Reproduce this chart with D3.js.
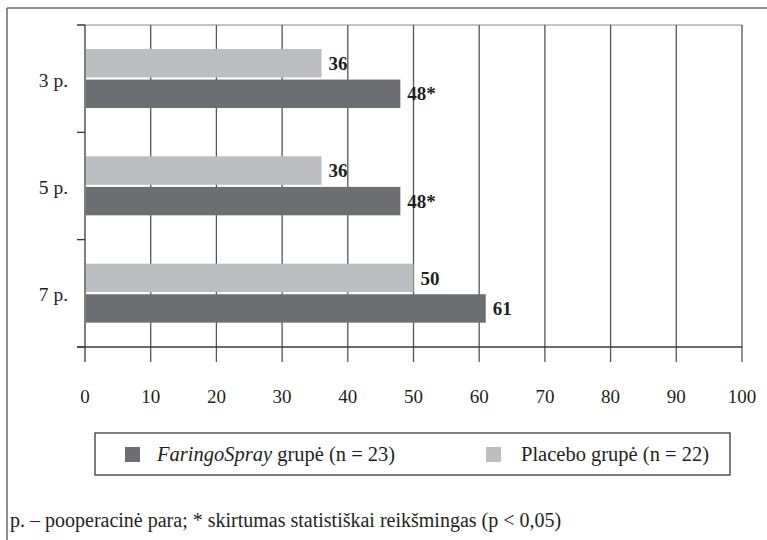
<!DOCTYPE html>
<html>
<head>
<meta charset="utf-8">
<script src="https://cdn.jsdelivr.net/npm/d3@7"></script>
<style>
  html, body { margin: 0; padding: 0; background: #fff; }
  svg { display: block; font-family: "Liberation Serif", "Times New Roman", serif; }
</style>
</head>
<body>
<svg id="chart" width="767" height="540"></svg>
<script>
// Postoperative days shown on the vertical axis
const categories = ["3 p.", "5 p.", "7 p."];
// Bar series, drawn in this order inside each day group
const seriesNames = ["Placebo", "FaringoSpray"];
const placeboValues = [36, 36, 50];
const faringoValues = [48, 48, 61];
// Labels printed next to each bar (asterisk marks significance)
const placeboLabels = ["36", "36", "50"];
const faringoLabels = ["48*", "48*", "61"];
const xTicks = [0, 10, 20, 30, 40, 50, 60, 70, 80, 90, 100];

const colors = { Placebo: "#bcbdc0", FaringoSpray: "#6d6e71" };

const svg = d3.select("#chart");

// Outer frame (top and left edges)
svg.append("line").attr("x1", 7).attr("x2", 767).attr("y1", 8).attr("y2", 8)
  .attr("stroke", "#6a6a6a").attr("stroke-width", 1.5);
svg.append("line").attr("x1", 7).attr("x2", 7).attr("y1", 8).attr("y2", 540)
  .attr("stroke", "#6a6a6a").attr("stroke-width", 1.5);

const x = d3.scaleLinear().domain([0, 100]).range([85, 742]);
const y = d3.scaleBand().domain(categories).range([25, 347]).padding(0);
const inner = d3.scaleBand().domain(seriesNames).range([24, 83]).paddingInner(0.07);

const plotTop = 25, plotBottom = 347, tickBottom = 362;

// Top border of the plot area
svg.append("line").attr("x1", 77).attr("x2", x(100)).attr("y1", plotTop).attr("y2", plotTop)
  .attr("stroke", "#8a8a8a").attr("stroke-width", 1.2);

// Vertical gridlines, running past the baseline as ticks
svg.append("g").selectAll("line").data(xTicks).join("line")
  .attr("x1", d => x(d)).attr("x2", d => x(d))
  .attr("y1", plotTop).attr("y2", tickBottom)
  .attr("stroke", d => d === 0 ? "#3a3a3a" : "#555")
  .attr("stroke-width", 1.3);

// Bottom axis line
svg.append("line").attr("x1", 77).attr("x2", x(100)).attr("y1", plotBottom).attr("y2", plotBottom)
  .attr("stroke", "#3a3a3a").attr("stroke-width", 1.3);

// Category separators on the vertical axis
const separators = categories.map(c => y(c)).concat([y(categories[categories.length - 1]) + y.bandwidth()]);
svg.append("g").selectAll("line").data(separators).join("line")
  .attr("x1", 77).attr("x2", x(0)).attr("y1", d => d).attr("y2", d => d)
  .attr("stroke", "#3a3a3a").attr("stroke-width", 1.3);

// X tick labels
svg.append("g").selectAll("text").data(xTicks).join("text")
  .attr("x", d => x(d)).attr("y", 403)
  .attr("text-anchor", "middle")
  .attr("font-size", 19).attr("fill", "#231f20")
  .text(d => d);

// Category labels
svg.append("g").selectAll("text").data(categories).join("text")
  .attr("x", 68).attr("y", d => y(d) + y.bandwidth() / 2 + 8)
  .attr("text-anchor", "end")
  .attr("font-size", 19.5).attr("fill", "#231f20")
  .text(d => d);

// Bars and value labels
const rows = categories.map((c, i) => ({
  cat: c,
  bars: [
    { s: "Placebo", v: placeboValues[i], label: placeboLabels[i] },
    { s: "FaringoSpray", v: faringoValues[i], label: faringoLabels[i] }
  ]
}));

const groups = svg.append("g").selectAll("g").data(rows).join("g")
  .attr("transform", d => `translate(0,${y(d.cat)})`);

groups.selectAll("rect").data(d => d.bars).join("rect")
  .attr("x", x(0) + 1)
  .attr("y", d => inner(d.s))
  .attr("width", d => x(d.v) - x(0) - 1)
  .attr("height", inner.bandwidth())
  .attr("fill", d => colors[d.s]);

groups.selectAll("text").data(d => d.bars).join("text")
  .attr("x", d => x(d.v) + 7)
  .attr("y", d => inner(d.s) + inner.bandwidth() / 2)
  .attr("dy", "0.35em")
  .attr("font-size", 19).attr("font-weight", "bold").attr("fill", "#231f20")
  .text(d => d.label);

// Legend
const legend = svg.append("g");
legend.append("rect").attr("x", 95).attr("y", 433).attr("width", 635).attr("height", 42)
  .attr("fill", "none").attr("stroke", "#3a3a3a").attr("stroke-width", 1.3);

const legendItems = [
  { s: "FaringoSpray", sx: 125, tx: 157 },
  { s: "Placebo", sx: 486, tx: 521 }
];
legend.selectAll("rect.sw").data(legendItems).join("rect")
  .attr("class", "sw")
  .attr("x", d => d.sx).attr("y", 447).attr("width", 15).attr("height", 15)
  .attr("fill", d => colors[d.s]);

const t1 = legend.append("text").attr("x", legendItems[0].tx).attr("y", 461)
  .attr("font-size", 20.5).attr("fill", "#231f20");
t1.append("tspan").attr("font-style", "italic").text("FaringoSpray");
t1.append("tspan").text(" grupė (n = 23)");

legend.append("text").attr("x", legendItems[1].tx).attr("y", 461)
  .attr("font-size", 20.5).attr("fill", "#231f20")
  .text("Placebo grupė (n = 22)");

// Footnote
svg.append("text").attr("x", 10).attr("y", 527)
  .attr("font-size", 20).attr("fill", "#231f20")
  .text("p. – pooperacinė para; * skirtumas statistiškai reikšmingas (p < 0,05)");
</script>
</body>
</html>
